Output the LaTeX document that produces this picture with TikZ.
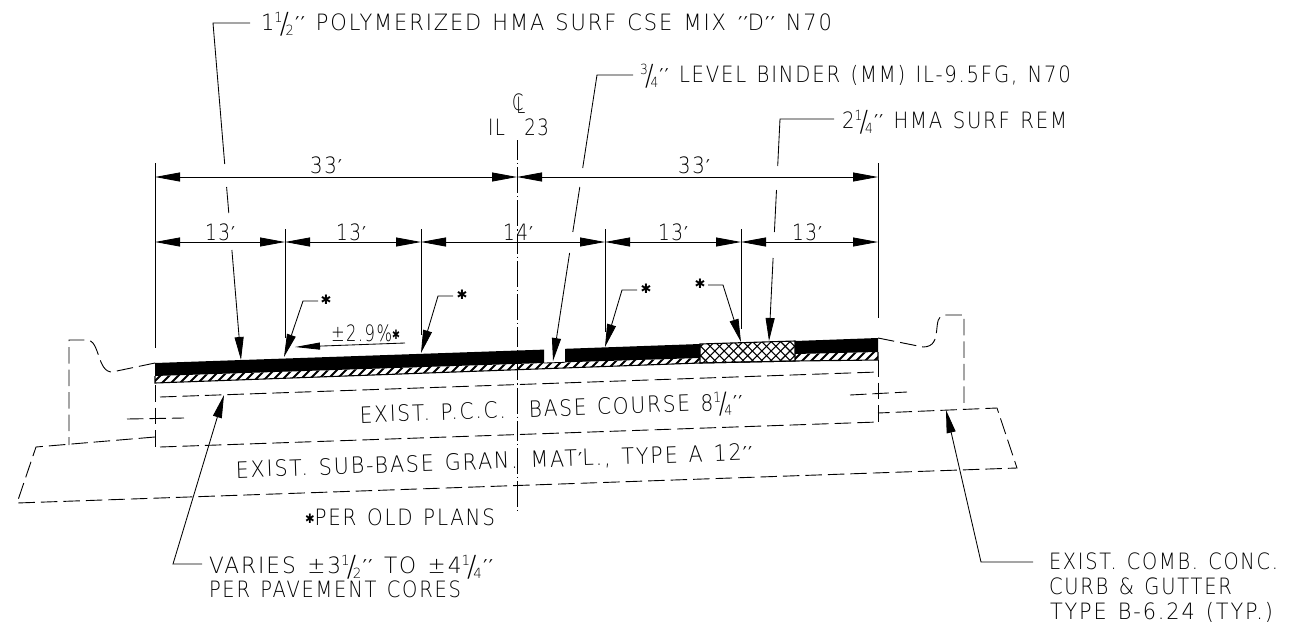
\documentclass[tikz,border=0pt]{standalone}
\usepackage{fontspec}
\usepackage{graphicx}
\setmainfont{DejaVu Sans ExtraLight}[LetterSpace=9,WordSpace=1.3]
\newfontfamily\symf{DejaVu Sans}
\usetikzlibrary{arrows.meta}
\newsavebox{\fitbox}
\newcommand{\fitw}[2]{\sbox{\fitbox}{#2}\pgfmathsetmacro{\fitr}{#1/\the\wd\fitbox}\scalebox{\fitr}[1]{\usebox{\fitbox}}}
\newcommand{\fr}[2]{{\raisebox{8pt}{\fontsize{14}{14}\selectfont #1}\kern-3pt\raisebox{-3pt}{\fontsize{29}{29}\selectfont /}\kern-3.5pt\raisebox{-5pt}{\fontsize{14}{14}\selectfont #2}}}
\newcommand{\pr}{{\kern1.5pt\symf\fontsize{19}{19}\selectfont ′}}
\newcommand{\ppr}{{\kern1.5pt\symf\fontsize{19}{19}\selectfont ′\kern1.5pt′}}
\newcommand{\sta}{{\symf\raisebox{1.5pt}{\fontsize{13}{13}\selectfont ✱}}}
\tikzset{
  x=1pt,y=-1pt,
  lbl/.style={inner sep=0pt,outer sep=0pt,anchor=base west,font=\fontsize{22.5}{24}\selectfont},
  thinl/.style={line width=0.85pt,black},
  dsh/.style={line width=0.9pt,black,dash pattern=on 16.5pt off 6pt},
  dimarr/.style={line width=0.85pt,black,{Triangle[length=25pt,width=9pt]}-{Triangle[length=25pt,width=9pt]}},
  leadarr/.style={line width=0.85pt,black,-{Triangle[length=23pt,width=9pt]}},
  stamark/.style={inner sep=0pt,outer sep=0pt,font=\fontsize{21}{24}\selectfont}
}
\begin{document}
\begin{tikzpicture}
\useasboundingbox (0,0) rectangle (1291,624);
% pavement fill
\fill[black] (155,363) -- (544,349.6) -- (544,363) -- (155,376) -- cycle;
\fill[black] (565,348.8) -- (700,344) -- (700,358) -- (565,362.3) -- cycle;
\fill[black] (795,341) -- (878,338) -- (878,352) -- (795,354) -- cycle;
% hatched bands
\begin{scope}
\clip (155,376) -- (700,358) -- (700,363) -- (155,383) -- cycle;
\foreach \i in {150,159,...,710} \draw[line width=2pt] (\i,386) -- (\i+28,358);
\end{scope}
\begin{scope}
\clip (795,354) -- (878,352) -- (878,360) -- (795,361) -- cycle;
\foreach \i in {790,799,...,880} \draw[line width=2pt] (\i,364) -- (\i+16,348);
\end{scope}
\draw[line width=1.1pt] (155,376) -- (155,383) -- (700,363) -- (795,361) -- (878,360) -- (878,352);
\draw[line width=0.8pt] (544,363) -- (565,362.3);
% cross-hatch
\begin{scope}
\clip (700,344) -- (795,341) -- (795,361) -- (700,363) -- cycle;
\foreach \i in {680,689.4,...,830} {
 \draw[line width=1.1pt] (\i,335) -- (\i+32,367);
 \draw[line width=1.1pt] (\i,367) -- (\i+32,335);
}
\end{scope}
\draw[line width=1.1pt] (700,344) -- (795,341) -- (795,361) -- (700,363) -- cycle;
% named coordinates
\coordinate (eL) at (155,163); \coordinate (eLb) at (155,348);
\coordinate (eR) at (878,163); \coordinate (eRb) at (878,318);
\coordinate (d1) at (155,242); \coordinate (d2) at (285,242); \coordinate (d3) at (421,242);
\coordinate (d4) at (605,242); \coordinate (d5) at (741,242); \coordinate (d6) at (878,242);
\coordinate (t1) at (155,177); \coordinate (t2) at (517,177); \coordinate (t3) at (878,177);
% extension lines
\draw[thinl] (eL) -- (eLb);
\draw[thinl] (eR) -- (eRb);
\draw[thinl] (285,229) -- (285,338);
\draw[thinl] (421,229) -- (421,335);
\draw[thinl] (605,229) -- (605,332);
\draw[thinl] (741,229) -- (741,329);
% dimension lines
\draw[dimarr] (t1) -- (t2);
\draw[dimarr] (t2) -- (t3);
\draw[dimarr] (d1) -- (d2);
\draw[dimarr] (d2) -- (d3);
\draw[dimarr] (d3) -- (d4);
\draw[dimarr] (d4) -- (d5);
\draw[dimarr] (d5) -- (d6);
% centre line
\draw[line width=0.85pt,dash pattern=on 20pt off 3pt on 1.2pt off 3pt on 26pt off 3pt on 1.2pt off 3pt on 26pt off 3pt on 1.2pt off 3pt] (517,140) -- (517,514);
% existing layers
\draw[dsh] (155,385) -- (155,447);
\draw[dsh] (878,360) -- (878,422);
\draw[dsh] (160,397) -- (878,372);
\draw[dsh] (160,447) -- (878,422);
\draw[dsh] (127,419) -- (184,418);
\draw[dsh] (850,395) -- (907,392);
\draw[dsh] (155,437) -- (36,447) -- (17,503) -- (1017,468) -- (997,408) -- (878,413);
% curbs
\draw[dsh] (155,363) -- (112,372) .. controls (97,372) and (100,340) .. (87,340) -- (69,340) -- (69,445);
\draw[dsh] (878,338) -- (923,347) .. controls (945,347) and (930,315) .. (945,315) -- (964,315) -- (964,409);
% leaders with gaps
\coordinate (Ac) at (213,23); \coordinate (As) at (250,23); \coordinate (At) at (241,360);
\draw[thinl] (As) -- (Ac) -- (224.7,164);
\draw[thinl] (226.6,187) -- (228.8,213);
\draw[leadarr] (231.9,250) -- (At);
\coordinate (Bc) at (597,75); \coordinate (Bs) at (633,75); \coordinate (Bt) at (553,361);
\draw[thinl] (Bs) -- (Bc) -- (582.7,168);
\draw[thinl] (579.8,187) -- (572.8,232);
\draw[leadarr] (569.6,253) -- (Bt);
\coordinate (Cc) at (780,119); \coordinate (Cs) at (834,119); \coordinate (Ct) at (769,341);
\draw[thinl] (Cs) -- (Cc) -- (777.7,166);
\draw[thinl] (776.5,190) -- (774.4,232);
\draw[leadarr] (773.1,258) -- (Ct);
\coordinate (Ds) at (202,564); \coordinate (Dc) at (173,564); \coordinate (Dt) at (224,395);
\draw[leadarr] (Ds) -- (Dc) -- (Dt);
\coordinate (Es) at (1033,562); \coordinate (Ec) at (981,562); \coordinate (Et) at (946,410);
\draw[leadarr] (Es) -- (Ec) -- (Et);
% star leaders
\draw[leadarr] (318,301) -- (303,301) -- (284,357);
\draw[leadarr] (453,296) -- (438,296) -- (421,353);
\draw[leadarr] (637,290) -- (622,290) -- (605,347);
\draw[leadarr] (708,285) -- (723,285) -- (741,342);
\draw[line width=0.85pt,-{Triangle[length=25pt,width=7pt]}] (405,343) -- (295,347);
% star marks
\node[stamark] (s1) at (326,301) {\sta};
\node[stamark] (s2) at (462,296) {\sta};
\node[stamark] (s3) at (646,290) {\sta};
\node[stamark] (s4) at (700,285) {\sta};
% labels
\node[lbl] (l1) at (261,30) {\fitw{571}{1\fr{1}{2}\ppr\ POLYMERIZED HMA SURF CSE MIX \ppr D\ppr\ N70}};
\node[lbl] (l2) at (640,82) {\fitw{431}{\fr{3}{4}\ppr\ LEVEL BINDER (MM) IL-9.5FG, N70}};
\node[lbl] (l3) at (842,128) {\fitw{225}{2\fr{1}{4}\ppr\ HMA SURF REM}};
\node[lbl] (dim33a) at (310,173) {\fitw{32}{33\pr}};
\node[lbl] (dim33b) at (678,173) {\fitw{32}{33\pr}};
\node[lbl] (dim13a) at (205,240) {\fitw{30}{13\pr}};
\node[lbl] (dim13b) at (336,240) {\fitw{30}{13\pr}};
\node[lbl] (dim14) at (503,240) {\fitw{30}{14\pr}};
\node[lbl] (dim13c) at (658,240) {\fitw{30}{13\pr}};
\node[lbl] (dim13d) at (792,240) {\fitw{30}{13\pr}};
\node[lbl] (cl) at (512,110) {\scalebox{.72}[1]{C}\kern-7pt\raisebox{-3pt}{\scalebox{.72}[1]{L}}};
\node[lbl] (il) at (488,135) {\fitw{61}{IL\ \ 23}};
\node[lbl] (slope) at (331,341) {\fitw{69}{±2.9\%\sta}};
\node[lbl,rotate=2] (pcc) at (360,423) {\fitw{383}{EXIST. P.C.C.\ \ \kern2pt BASE COURSE 8\fr{1}{4}\ppr}};
\node[lbl,rotate=2] (sub) at (236,478) {\fitw{517}{EXIST. SUB-BASE GRAN.\ \kern2pt MAT\pr L., TYPE A 12\ppr}};
\node[lbl] (per) at (305,525) {\fitw{190}{\sta PER OLD PLANS}};
\node[lbl] (var1) at (209,573) {\fitw{284}{VARIES ±3\fr{1}{2}\ppr\ TO ±4\fr{1}{4}\ppr}};
\node[lbl] (var2) at (209,597) {\fitw{252}{PER PAVEMENT CORES}};
\node[lbl] (e1) at (1049,569) {\fitw{229}{EXIST. COMB. CONC.}};
\node[lbl] (e2) at (1049,594) {\fitw{183}{CURB \& GUTTER}};
\node[lbl] (e3) at (1050,619) {\fitw{223}{TYPE B-6.24 (TYP.)}};
\end{tikzpicture}
\end{document}
